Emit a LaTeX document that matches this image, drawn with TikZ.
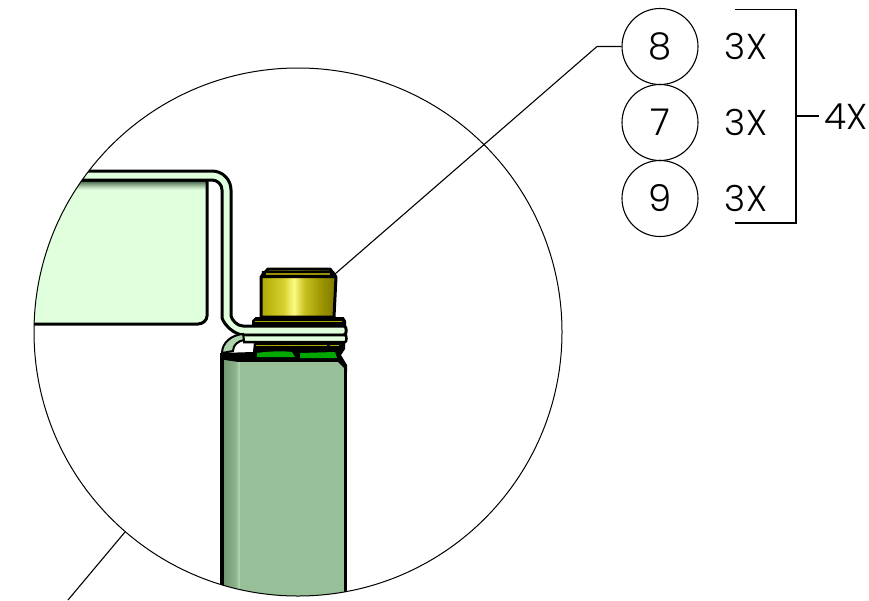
\documentclass[tikz,border=0pt]{standalone}
\usepackage{fontspec}
\setmainfont{Poppins Light}
\definecolor{paleg}{HTML}{E0FFDC}
\definecolor{bodygreen}{HTML}{98C098}
\definecolor{vivid}{HTML}{00A800}
\definecolor{ba}{HTML}{B0A800}
\definecolor{bb}{HTML}{D8D030}
\definecolor{bc}{HTML}{FBFB80}
\definecolor{bd}{HTML}{C8C020}
\definecolor{be}{HTML}{9A9200}
\definecolor{bf}{HTML}{7E7800}
\definecolor{ga}{HTML}{6F966F}
\definecolor{gb}{HTML}{8DB48D}
\definecolor{gc}{HTML}{ADD3AD}
\definecolor{pb}{HTML}{4C6C50}
\pgfdeclarehorizontalshading{brass}{100bp}{color(0bp)=(ba); color(25bp)=(ba); color(40bp)=(bb); color(47bp)=(bc); color(54bp)=(bd); color(66bp)=(be); color(75bp)=(bf); color(100bp)=(bf)}
\pgfdeclarehorizontalshading{bodyedge}{100bp}{color(0bp)=(ga); color(25bp)=(ga); color(62bp)=(gb); color(72bp)=(gc); color(75bp)=(bodygreen); color(100bp)=(bodygreen)}
\tikzset{
  thin line/.style={draw=black,line width=1.1pt},
  heavy/.style={draw=black,line width=3pt,line join=round},
  balloon/.style={circle,draw=black,line width=1.1pt,minimum size=76pt,inner sep=0pt,font=\fontsize{37}{40}\selectfont},
  qty/.style={inner sep=0pt,font=\fontsize{36}{40}\selectfont},
}
\begin{document}
\begin{tikzpicture}[x=1pt,y=-1pt]
\useasboundingbox (0,0) rectangle (869,600);
\fill[white] (0,0) rectangle (869,600);
\begin{scope}
  \clip (298,332) circle (264);
  % rear panel
  \fill[paleg] (0,180) -- (207,180) -- (207,316) .. controls (207,320) and (203,324) .. (198,324) -- (0,324) -- cycle;
  \foreach \rowy/\mix in {181/100,182/90,183/78,184/64,185/50,186/38,187/26,188/15,189/7}
    \fill[pb!\mix!paleg] (60,\rowy) rectangle (206,\rowy+1.1);
  \draw[heavy] (0,180) -- (207,180) -- (207,316) .. controls (207,320) and (203,324) .. (198,324) -- (0,324);
  % bent sheet
  \fill[paleg] (0,171) -- (212,171) .. controls (222.5,171) and (231,179.5) .. (231,190) -- (231,316) .. controls (232,320) and (237,326) .. (243,326) -- (346,326) -- (346,335) -- (243,335) .. controls (234,334) and (225,326) .. (222,318) -- (222,190) .. controls (222,184.5) and (217.5,180) .. (212,180) -- (0,180) -- cycle;
  \draw[heavy] (0,171) -- (212,171) .. controls (222.5,171) and (231,179.5) .. (231,190) -- (231,316) .. controls (232,320) and (237,326) .. (243,326) -- (344,326) .. controls (347,326) and (347,335) .. (344,335);
  \draw[heavy] (0,180) -- (212,180) .. controls (217.5,180) and (222,184.5) .. (222,190) -- (222,318) .. controls (225,326) and (234,334) .. (243,335) -- (344,335);
  % flange of the nut
  \path[draw=black,line width=2pt,fill=black] (256,318) -- (343,318) -- (345,321) -- (345,325) -- (253,325) -- (253,321) -- cycle;
  \fill[ba] (255,320.5) rectangle (342,322);
  % nut body
  \path[draw=black,line width=3pt,line join=round,shading=brass] (261,317) -- (261,277) -- (268,269) -- (330,269) -- (336,277) -- (334,317) -- cycle;
  \fill[black] (262,271) -- (334,271) -- (336,278) -- (261,278) -- cycle;
  \fill[be] (266,272.5) rectangle (330,274.5);
  % end cap of the lower sheet
  \fill[paleg] (243,335) -- (346,335) -- (346,342) -- (243,342) -- cycle;
  \draw[black,line width=2.5pt] (243,335) -- (345,335) .. controls (347,335) and (347,342) .. (345,342) -- (243,342);
  % tab bending down
  \path[fill=gc,draw=black,line width=2pt] (222,353) .. controls (222,343) and (231,335) .. (243,334) -- (244,340) .. controls (238,341) and (233,345) .. (233,351) -- cycle;
  % lower washers and dark band
  \fill[black] (221,353) -- (253,352) -- (254,342) -- (345,342) -- (345,349) -- (341,355) -- (347,365) -- (347,372) -- (221,372) -- cycle;
  \fill[ba] (256,344.5) rectangle (327,346);
  \fill[ba] (330,344.5) rectangle (339,346);
  \fill[vivid] (257,353) .. controls (270,351) and (285,351) .. (292,352) -- (295,357) -- (257,357) -- cycle;
  \fill[vivid] (300,353) -- (335,352) -- (337,358) -- (300,358) -- cycle;
  % body
  \path[fill=bodygreen] (223,360) -- (237,362) -- (338,362) -- (344,368) -- (344,610) -- (223,610) -- cycle;
  \shade[shading=bodyedge] (223,360) -- (237,362) -- (240,362) -- (240,610) -- (223,610) -- cycle;
  \draw[black,line width=4pt] (221.5,353) -- (221.5,610);
  \draw[black,line width=3.5pt] (345.5,366) -- (345.5,610);
\end{scope}
\draw[thin line,line width=1pt] (298,332) circle (264);
% balloons and quantities
\node[balloon] (b8) at (660,46.5) {8};
\node[balloon] (b7) at (660,122.5) {7};
\node[balloon] (b9) at (660,198.5) {9};
\node[qty] (q8) at (746,46.5) {3X};
\node[qty] (q7) at (746,122.5) {3X};
\node[qty] (q9) at (746,198) {3X};
\node[qty] (four) at (846,117) {4X};
\coordinate (elbow) at (597,46.5);
\coordinate (nuttip) at (335,274);
\coordinate (bt) at (735,9.5);
\coordinate (bb) at (735,223);
\coordinate (brt) at (796,9.5);
\coordinate (brb) at (796,223);
\coordinate (brm) at (796,116);
\coordinate (viewa) at (125,532);
\coordinate (viewb) at (68,600);
\draw[thin line] (b8.west) -- (elbow) -- (nuttip);
\draw[thin line] (bt) -- (brt) -- (brb) -- (bb);
\draw[thin line,shorten >=5pt] (brm) -- (four.west |- brm);
\draw[thin line] (viewa) -- (viewb);
\end{tikzpicture}
\end{document}
